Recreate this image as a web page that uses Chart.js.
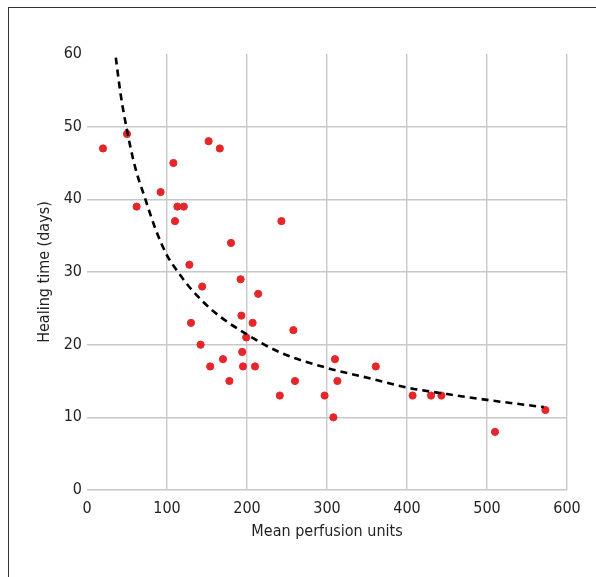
<!DOCTYPE html>
<html>
<head>
<meta charset="utf-8">
<script src="https://cdn.jsdelivr.net/npm/chart.js@4/dist/chart.umd.min.js"></script>
<style>
  html, body { margin: 0; padding: 0; background: #fff; overflow: hidden; }
  #wrap { position: relative; width: 596px; height: 577px; }
  #frame { position: absolute; left: 8px; top: 7px; width: 620px; height: 600px; border: 1px solid #333; box-sizing: border-box; }
  #myChart { position: absolute; left: 0; top: 0; }
</style>
</head>
<body>
<div id="wrap">
  <div id="frame"></div>
  <canvas id="myChart" width="596" height="577"></canvas>
</div>
<script>
// measured points (mean perfusion units, healing time in days)
const perfusion = [20, 50, 62, 92, 108, 110, 113, 121, 128, 130, 142, 144, 152, 154, 166, 170, 178, 180, 192, 193,
  194, 195, 199, 207, 210, 214, 241, 243, 258, 260, 297, 308, 310, 313, 361, 407, 430, 443, 510, 573]
const healing = [47, 49, 39, 41, 45, 37, 39, 39, 31, 23, 20, 28, 48, 17, 47, 18, 15, 34, 29, 24,
  19, 17, 21, 23, 17, 27, 13, 37, 22, 15, 13, 10, 18, 15, 17, 13, 13, 13, 8, 11]

// fitted trend curve
const fitX = [36, 42, 50, 60, 73, 86, 100, 115, 129, 158, 200, 242, 300, 360, 400, 450, 500, 571]
const fitY = [59.5, 54.5, 49.5, 44.5, 40, 35.8, 32.3, 29.8, 27.8, 24.6, 21.4, 18.9, 16.8, 15.2, 14.1, 13.2, 12.4, 11.4]

const xTicks = [0, 100, 200, 300, 400, 500, 600]
const yTicks = [0, 10, 20, 30, 40, 50, 60]

const font = "'Liberation Sans Narrow', 'DejaVu Sans Condensed', 'Arial Narrow', sans-serif"
const textColor = '#231f20'
const gridColor = '#c8c8c8'

const ctx = document.getElementById('myChart')
new Chart(ctx, {
  type: 'scatter',
  data: {
    datasets: [{
      label: 'Patients',
      data: perfusion.map((x, i) => ({ x: x, y: healing[i] })),
      backgroundColor: '#e5262a',
      borderColor: '#e5262a',
      pointRadius: 3.6,
      pointHoverRadius: 3.6,
      order: 2
    }, {
      type: 'line',
      label: 'Fit',
      data: fitX.map((x, i) => ({ x: x, y: fitY[i] })),
      borderColor: '#000',
      borderWidth: 2.6,
      borderDash: [7, 5],
      pointRadius: 0,
      fill: false,
      cubicInterpolationMode: 'monotone',
      order: 1
    }]
  },
  options: {
    responsive: false,
    animation: false,
    events: [],
    layout: { padding: { top: 54, right: 29, bottom: 0, left: 0 } },
    plugins: { legend: { display: false }, tooltip: { enabled: false } },
    scales: {
      x: {
        type: 'linear',
        min: 0,
        max: 600,
        afterBuildTicks: s => { s.ticks = xTicks.map(v => ({ value: v })) },
        afterFit: s => { s.height = 87 },
        border: { display: false },
        grid: {
          drawTicks: false,
          lineWidth: 1.4,
          color: c => c.tick && c.tick.value === 0 ? 'rgba(0,0,0,0)' : gridColor
        },
        ticks: { color: textColor, padding: 9, font: { family: font, size: 16 } },
        title: {
          display: true,
          text: 'Mean perfusion units',
          color: textColor,
          padding: { top: 0, bottom: 36 },
          font: { family: font, size: 16 }
        }
      },
      y: {
        min: 0,
        max: 60,
        afterBuildTicks: s => { s.ticks = yTicks.map(v => ({ value: v })) },
        afterFit: s => { s.width = 87 },
        border: { display: false },
        grid: {
          drawTicks: false,
          lineWidth: 1.4,
          color: c => c.tick && c.tick.value === 60 ? 'rgba(0,0,0,0)' : gridColor
        },
        ticks: { color: textColor, padding: 5, font: { family: font, size: 16 } },
        title: {
          display: true,
          text: 'Healing time (days)',
          color: textColor,
          padding: { top: 35, bottom: 0 },
          font: { family: font, size: 16 }
        }
      }
    }
  }
})
</script>
</body>
</html>
